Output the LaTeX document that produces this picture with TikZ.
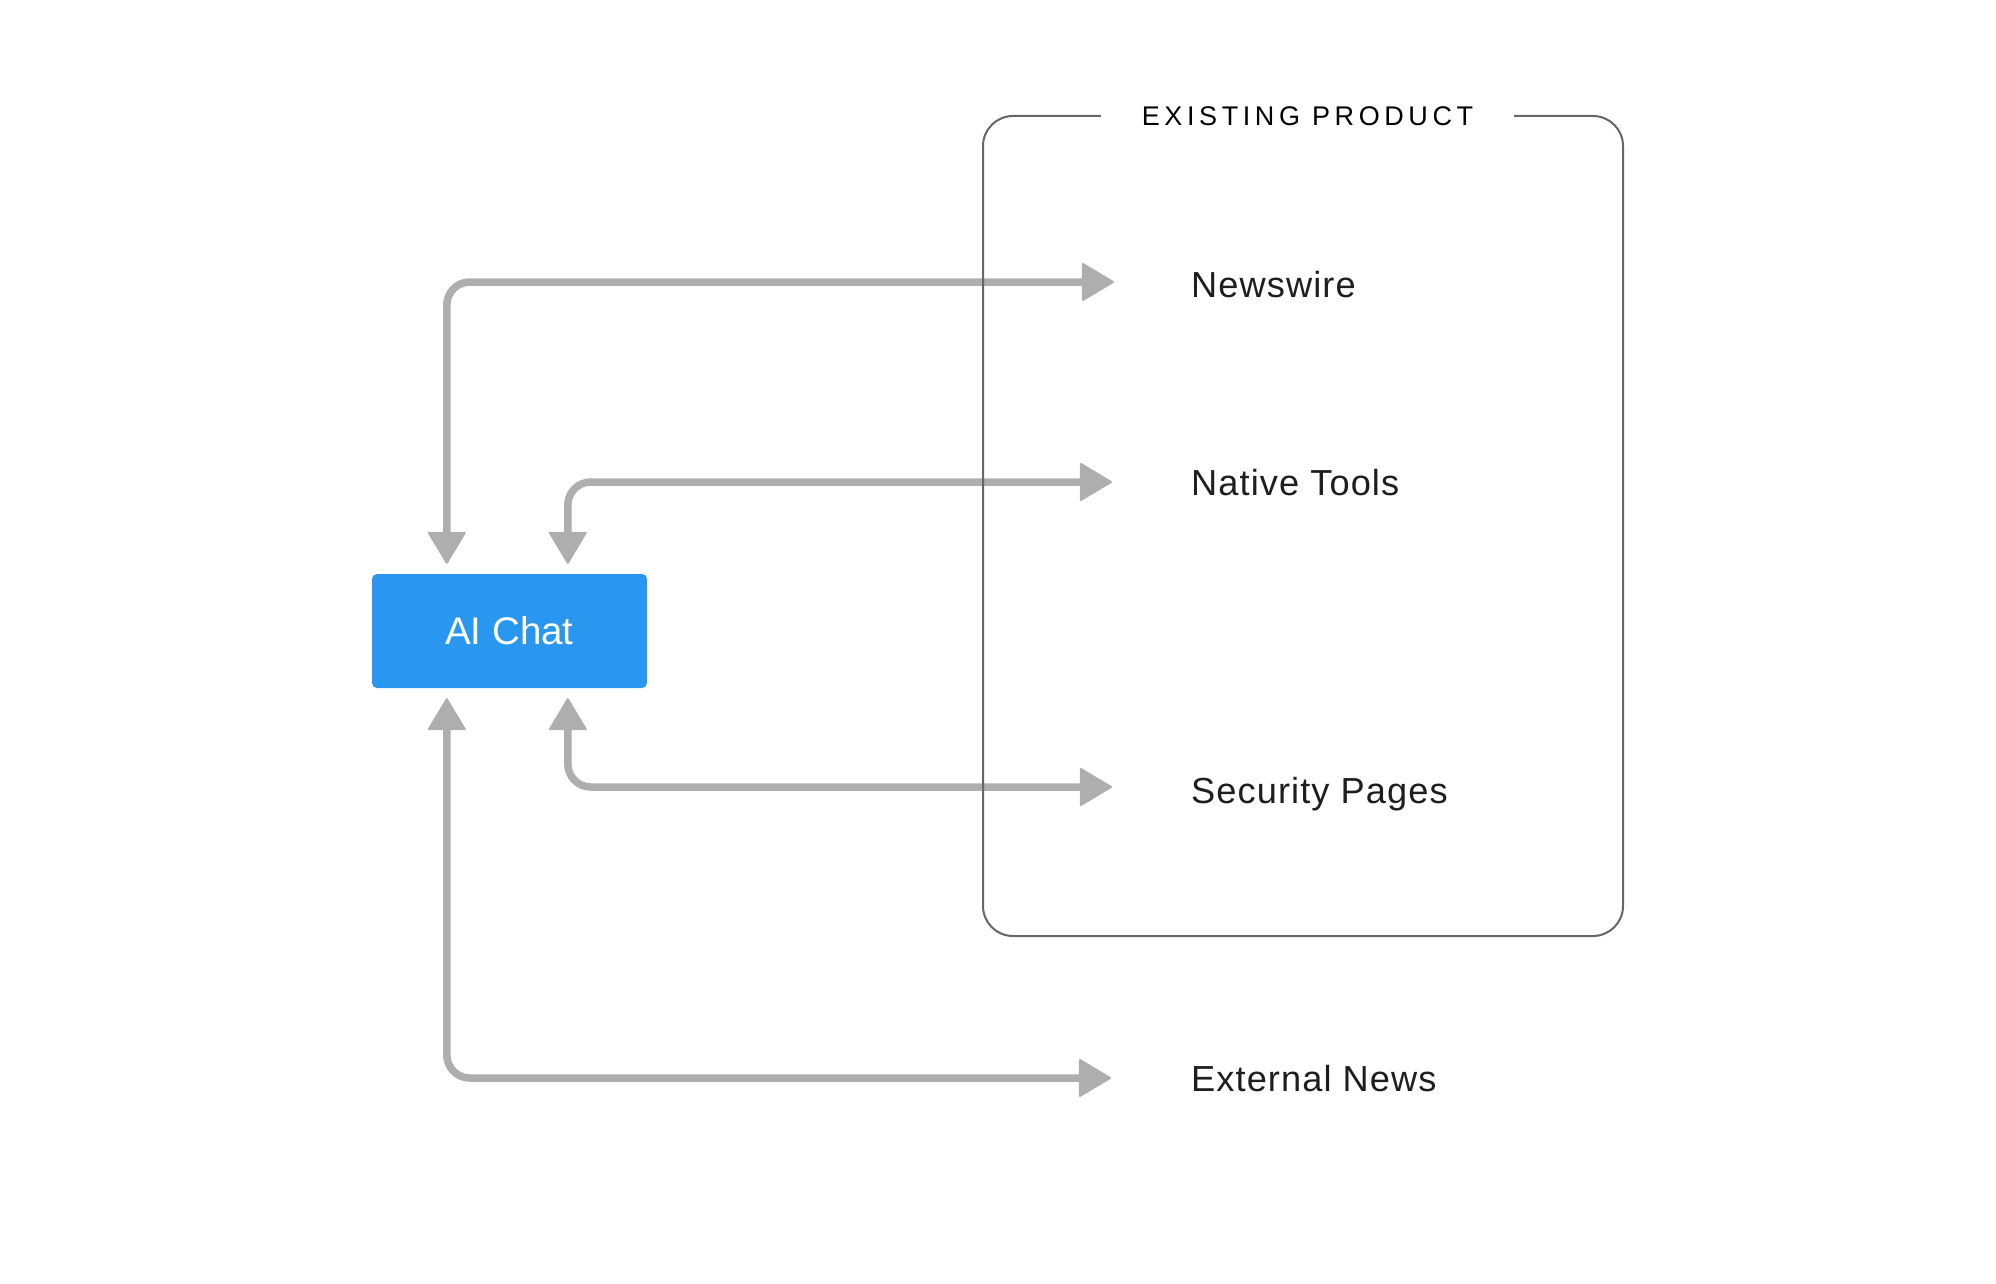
\documentclass[tikz,border=0pt]{standalone}
\usepackage{fontspec}
\setmainfont{Liberation Sans}
\newfontfamily\lblfont[LetterSpace=3]{Liberation Sans}
\newfontfamily\ttlfont[LetterSpace=17]{Liberation Sans}
\usetikzlibrary{arrows.meta}
\definecolor{arrowgray}{HTML}{AEAEAE}
\definecolor{chatblue}{HTML}{2997EF}
\definecolor{framegray}{HTML}{666666}
\definecolor{textdark}{HTML}{1E1E1E}
\begin{document}
\begin{tikzpicture}[x=1pt,y=-1pt,
  headtip/.tip={Triangle[length=33pt,width=39pt,line width=2pt,round]},
  conn/.style={draw=arrowgray, line width=7.5pt, rounded corners=23pt, headtip-headtip},
  itemlabel/.style={anchor=west, inner sep=0pt, text=textdark, font=\lblfont\fontsize{36.2pt}{43pt}\selectfont, text height=26pt, text depth=0pt},
  chatbox/.style={fill=chatblue, rounded corners=5pt, minimum width=275pt, minimum height=114pt, inner sep=0pt, text=white, font=\fontsize{38.5pt}{46pt}\selectfont},
  prodframe/.style={draw=framegray, line width=2pt, rounded corners=30pt, minimum width=640pt, minimum height=820pt, inner sep=0pt},
  frametitle/.style={fill=white, inner sep=0pt, minimum width=413pt, minimum height=30pt, text=black, font=\ttlfont\fontsize{27pt}{32pt}\selectfont}
]
\useasboundingbox (0,0) rectangle (1996,1284);

\node[chatbox] (chat) at (509.5,631) {AI Chat};

\node[itemlabel] (news) at (1191,284) {Newswire};
\node[itemlabel] (native) at (1191,482) {Native Tools};
\node[itemlabel] (security) at (1191,790) {Security Pages};
\node[itemlabel] (external) at (1191,1078) {External News};

\draw[conn] ([xshift=-77pt,yshift=2pt]news.west) -| ([xshift=75pt,yshift=10pt]chat.north west);
\draw[conn] ([xshift=-79pt]native.west) -| ([xshift=196pt,yshift=10pt]chat.north west);
\draw[conn] ([xshift=-79pt,yshift=3pt]security.west) -| ([xshift=196pt,yshift=-10pt]chat.south west);
\draw[conn] ([xshift=-80pt]external.west) -| ([xshift=75pt,yshift=-10pt]chat.south west);

\node[prodframe] (frame) at (1303,526) {};
\node[frametitle] (ttl) at (1307.5,116) {EXISTING PRODUCT};
\end{tikzpicture}
\end{document}
